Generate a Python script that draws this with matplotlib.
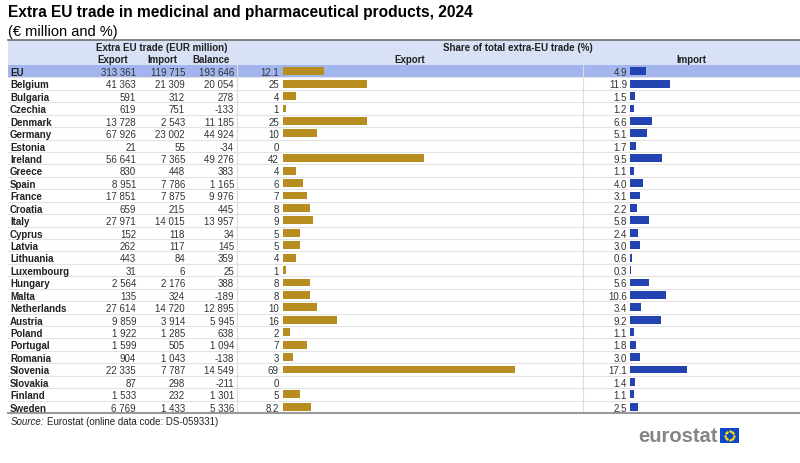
import matplotlib
matplotlib.use("Agg")
import matplotlib.pyplot as plt
import numpy as np

plt.rcParams['font.family'] = ['Liberation Sans', 'DejaVu Sans']

countries = ['EU', 'Belgium', 'Bulgaria', 'Czechia', 'Denmark', 'Germany', 'Estonia',
             'Ireland', 'Greece', 'Spain', 'France', 'Croatia', 'Italy', 'Cyprus',
             'Latvia', 'Lithuania', 'Luxembourg', 'Hungary', 'Malta', 'Netherlands',
             'Austria', 'Poland', 'Portugal', 'Romania', 'Slovenia', 'Slovakia',
             'Finland', 'Sweden']
export_eur = [313361, 41363, 591, 619, 13728, 67926, 21, 56641, 830, 8951, 17851, 659,
              27971, 152, 262, 443, 31, 2564, 135, 27614, 9859, 1922, 1599, 904, 22335,
              87, 1533, 6769]
import_eur = [119715, 21309, 312, 751, 2543, 23002, 55, 7365, 448, 7786, 7875, 215,
              14015, 118, 117, 84, 6, 2176, 324, 14720, 3914, 1285, 505, 1043, 7787,
              298, 232, 1433]
balance_eur = [193646, 20054, 278, -133, 11185, 44924, -34, 49276, 383, 1165, 9976, 445,
               13957, 34, 145, 359, 25, 388, -189, 12895, 5945, 638, 1094, -138, 14549,
               -211, 1301, 5336]
export_share = [12.1, 25, 4, 1, 25, 10, 0, 42, 4, 6, 7, 8, 9, 5, 5, 4, 1, 8, 8, 10, 16,
                2, 7, 3, 69, 0, 5, 8.2]
import_share = [4.9, 11.9, 1.5, 1.2, 6.6, 5.1, 1.7, 9.5, 1.1, 4.0, 3.1, 2.2, 5.8, 2.4,
                3.0, 0.6, 0.3, 5.6, 10.6, 3.4, 9.2, 1.1, 1.8, 3.0, 17.1, 1.4, 1.1, 2.5]

n = len(countries)
W, H = 800, 464
top, bottom = 66, 414          # table body in pixels
row_h = (bottom - top) / n
px_per_pct = 3.36

header_col = '#d9e1f7'
eu_col = '#a3b5ee'
gold = '#b78d1f'
blue = '#2344b0'
txt = '#222222'
num = '#333333'


def fmt(v):
    return f"{v:,}".replace(',', ' ')


fig = plt.figure(figsize=(8, 4.64), dpi=100)
ax = fig.add_axes([0, 0, 1, 1])
ax.set_xlim(0, W)
ax.set_ylim(H, 0)
ax.axis('off')

# title
ax.text(8, 12, 'Extra EU trade in medicinal and pharmaceutical products, 2024',
        fontsize=11.2, fontweight='bold', va='center', ha='left', color='black')
ax.text(8, 32, '(€ million and %)', fontsize=10.5, va='center', ha='left', color='black')

# header band
ax.add_patch(plt.Rectangle((8, 41), W - 8, top - 41, color=header_col, lw=0))
ax.plot([8, W], [41, 41], color='#6e6e6e', lw=1.2)
hs = dict(fontsize=7, fontweight='bold', va='center', color=txt)
ax.text(162, 48, 'Extra EU trade (EUR million)', ha='center', **hs)
ax.text(113, 60, 'Export', ha='center', **hs)
ax.text(162, 60, 'Import', ha='center', **hs)
ax.text(211, 60, 'Balance', ha='center', **hs)
ax.text(518, 48, 'Share of total extra-EU trade (%)', ha='center', **hs)
ax.text(410, 60, 'Export', ha='center', **hs)
ax.text(691, 60, 'Import', ha='center', **hs)

# EU row band
ax.add_patch(plt.Rectangle((8, top), W - 8, row_h, color=eu_col, lw=0))

for i, c in enumerate(countries):
    y = top + row_h * (i + 0.5) + 0.8
    if i > 0:
        ax.plot([8, W], [top + row_h * i] * 2, color='#e3e3e3', lw=0.8, zorder=1)
    ax.text(10, y, c, fontsize=7, fontweight='bold', va='center', ha='left', color=txt)
    ax.text(136, y, fmt(export_eur[i]), fontsize=7, va='center', ha='right', color=num)
    ax.text(185, y, fmt(import_eur[i]), fontsize=7, va='center', ha='right', color=num)
    ax.text(234, y, fmt(balance_eur[i]), fontsize=7, va='center', ha='right', color=num)
    ax.text(279, y, f"{export_share[i]:g}", fontsize=7, va='center', ha='right', color=num)
    ax.text(627, y, f"{import_share[i]:.1f}", fontsize=7, va='center', ha='right', color=num)

# column separators
ax.plot([237, 237], [top, bottom], color='#dddddd', lw=0.8)
ax.plot([583, 583], [top, bottom], color='#dddddd', lw=0.8)
ax.plot([8, W], [bottom, bottom], color='#9a9a9a', lw=1.5)

# source
ax.text(11, 422, 'Source:', fontsize=7, fontstyle='italic', va='center', ha='left', color=txt)
ax.text(47, 422, 'Eurostat (online data code: DS-059331)', fontsize=7, va='center',
        ha='left', color=txt)

# eurostat logo
ax.text(718, 437, 'eurostat', fontsize=14.5, fontweight='bold', color='#858585',
        va='center', ha='right')
ax.add_patch(plt.Rectangle((720, 429), 19, 15, color='#0e47cb', lw=0))
ang = np.linspace(0, 2 * np.pi, 12, endpoint=False)
ax.scatter(729.5 + 4.5 * np.cos(ang), 436.5 + 4.5 * np.sin(ang), s=0.6, color='#ffdd00',
           marker='*', zorder=5)

# bar axes
rows = np.arange(n)


def bar_axes(left_px, right_px, values, color):
    b = fig.add_axes([left_px / W, (H - bottom) / H, (right_px - left_px) / W,
                      (bottom - top) / H])
    b.patch.set_alpha(0)
    b.barh(rows, values, height=0.64, color=color, linewidth=0)
    b.set_ylim(n - 0.5, -0.5)
    b.set_xlim(0, (right_px - left_px) / px_per_pct)
    b.axis('off')
    return b


bar_axes(283, 580, export_share, gold)
bar_axes(630, 795, import_share, blue)

fig.savefig('out.png', dpi=100)
